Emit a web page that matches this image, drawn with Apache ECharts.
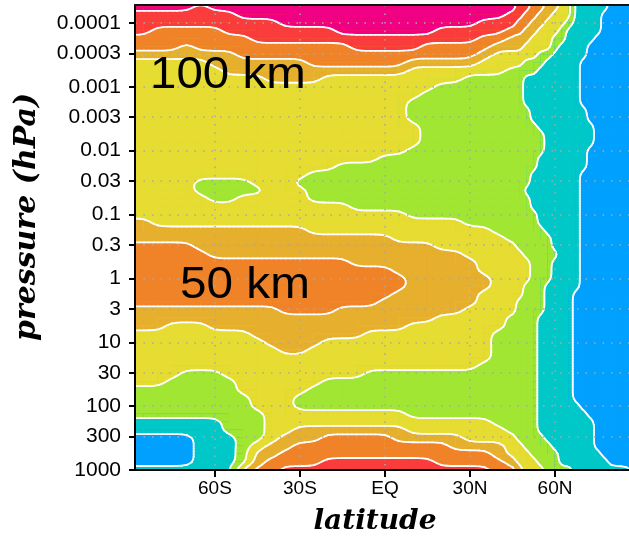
<!DOCTYPE html>
<html>
<head>
<meta charset="utf-8">
<script src="https://cdn.jsdelivr.net/npm/echarts@6/dist/echarts.min.js"></script>
<style>html,body{margin:0;padding:0;background:#fff}#chart{width:629px;height:537px}</style>
</head>
<body>
<div id="chart"></div>
<script>
// ---- data ----
const latitudes = [-90,-85,-80,-75,-70,-65,-60,-55,-50,-45,-40,-35,-30,-25,-20,-15,-10,-5,0,5,10,15,20,25,30,35,40,45,47.5,50,52.5,55,57.5,60,62.5,65,67.5,70,72.5,75,77.5,80,85,90];
// log10(pressure / hPa) of the grid rows, from top (low pressure) to bottom
const logPressureRows = [-4.5,-4.375,-4.25,-4.125,-4,-3.875,-3.75,-3.625,-3.5,-3.375,-3.25,-3.125,-3,-2.875,-2.75,-2.625,-2.5,-2.375,-2.25,-2.125,-2,-1.875,-1.75,-1.625,-1.5,-1.375,-1.25,-1.125,-1,-0.875,-0.75,-0.625,-0.5,-0.375,-0.25,-0.125,0,0.125,0.25,0.375,0.5,0.625,0.75,0.875,1,1.125,1.25,1.375,1.5,1.625,1.75,1.875,2,2.125,2.25,2.375,2.5,2.625,2.75,2.875,3];
// shading band at each grid node, one entry per latitude, read top row first,
// written as runs "band x number-of-rows"
const bandColumns = [
  "7x3 6x3 5x2 4x1 3x20 4x3 5x8 4x3 3x7 2x4 1x2 0x4 1x1",            // 90S
  "7x3 6x3 5x2 4x1 3x20 4x3 5x8 4x3 3x7 2x4 1x2 0x4 1x1",            // 85S
  "7x3 6x2 5x3 4x1 3x21 4x2 5x8 4x3 3x7 2x4 1x2 0x4 1x1",            // 80S
  "7x3 6x2 5x3 4x1 3x21 4x2 5x8 4x2 3x7 2x5 1x2 0x4 1x1",            // 75S
  "7x3 6x2 5x2 4x2 3x21 4x2 5x8 4x2 3x6 2x6 1x2 0x4 1x1",            // 70S
  "7x2 6x3 5x3 4x1 3x15 2x2 3x4 4x3 5x7 4x2 3x6 2x6 1x7",            // 65S
  "7x3 6x2 5x3 4x2 3x14 2x3 3x3 4x4 5x6 4x3 3x5 2x6 1x7",            // 60S
  "7x3 6x3 5x2 4x3 3x13 2x3 3x3 4x4 5x6 4x3 3x6 2x7 1x5",            // 55S
  "7x4 6x2 5x3 4x2 3x13 2x2 3x4 4x4 5x6 4x3 3x8 2x9 4x1",            // 50S
  "7x4 6x3 5x2 4x2 3x14 2x1 3x4 4x4 5x6 4x4 3x9 2x4 3x1 4x2 5x1",    // 45S
  "7x4 6x3 5x2 4x3 3x18 4x4 5x6 4x5 3x12 4x2 5x2",                   // 40S
  "7x5 6x2 5x2 4x3 3x18 4x4 5x7 4x5 3x10 4x2 5x2 6x1",               // 35S
  "7x5 6x2 5x2 4x3 3x12 2x1 3x5 4x4 5x7 4x5 3x5 2x2 3x2 4x2 5x3 6x1", // 30S
  "7x5 6x2 5x3 4x2 3x11 2x4 3x4 4x3 5x7 4x4 3x5 2x3 3x2 4x2 5x3 6x1", // 25S
  "7x5 6x2 5x3 4x1 3x12 2x4 3x4 4x3 5x7 4x3 3x5 2x4 3x2 4x1 5x3 6x2", // 20S
  "7x6 6x1 5x3 4x1 3x11 2x5 3x4 4x3 5x6 4x4 3x5 2x4 3x2 4x1 5x3 6x2", // 15S
  "7x6 6x2 5x2 4x1 3x11 2x6 3x3 4x4 5x5 4x4 3x5 2x4 3x2 4x1 5x3 6x2", // 10S
  "7x6 6x2 5x2 4x1 3x11 2x6 3x3 4x4 5x5 4x3 3x5 2x5 3x2 4x1 5x3 6x2", // 5S
  "7x6 6x2 5x2 4x1 3x10 2x7 3x3 4x4 5x4 4x4 3x5 2x5 3x2 4x1 5x3 6x2", // EQ
  "7x6 6x2 5x2 4x1 3x10 2x7 3x4 4x4 5x2 4x5 3x5 2x5 3x2 4x2 5x2 6x2", // 5N
  "7x6 6x2 5x1 4x1 3x4 2x3 3x3 2x9 3x3 4x10 3x6 2x6 3x2 4x1 5x2 6x2", // 10N
  "7x6 6x1 5x2 4x1 3x3 2x16 3x3 4x10 3x6 2x6 3x2 4x1 5x2 6x2",       // 15N
  "7x5 6x2 5x2 4x1 3x2 2x17 3x4 4x8 3x7 2x6 3x2 4x1 5x3 6x1",        // 20N
  "7x5 6x2 5x2 4x1 3x2 2x17 3x4 4x8 3x7 2x6 3x2 4x2 5x2 6x1",        // 25N
  "7x5 6x2 5x2 4x1 3x1 2x19 3x4 4x6 3x8 2x6 3x3 4x1 5x2 6x1",        // 30N
  "7x4 6x2 5x2 4x1 3x2 2x19 3x6 4x2 3x9 2x7 3x3 4x1 5x2 6x1",        // 35N
  "7x4 6x2 5x1 4x1 3x3 2x20 3x12 2x12 3x2 4x2 5x2",                  // 40N
  "7x3 6x2 5x1 4x2 3x2 2x22 3x9 2x15 3x3 4x1 5x1",                   // 45N
  "6x4 5x2 4x2 3x2 2x23 3x6 2x18 3x3 4x1",                           // 47.5N
  "6x3 5x2 4x2 3x2 2x2 1x4 2x10 1x1 2x8 3x3 2x21 3x3",               // 50N
  "5x4 4x2 3x3 2x2 1x6 2x6 1x5 2x31 3x2",                            // 52.5N
  "5x3 4x2 3x3 2x2 1x8 2x3 1x9 2x11 1x15 2x4 3x1",                   // 55N
  "4x4 3x4 2x1 1x22 2x6 1x20 2x4",                                   // 57.5N
  "4x3 3x3 2x2 1x25 2x1 1x24 2x3",                                   // 60N
  "3x5 2x2 1x53 2x1",                                                // 62.5N
  "3x4 2x1 1x55 2x1",                                                // 65N
  "1x38 0x14 1x9",                                                   // 67.5N
  "1x9 0x6 1x8 0x30 1x8",                                            // 70N
  "1x7 0x10 1x3 0x34 1x7",                                           // 72.5N
  "1x6 0x52 1x3",                                                    // 75N
  "1x3 0x56 1x2",                                                    // 77.5N
  "0x60 1x1",                                                        // 80N
  "0x60 1x1",                                                        // 85N
  "0x61"                                                             // 90N
];
const bandColors = ['#00a0ff','#00c8c8','#a0e632','#e6dc32','#e6af2d','#f08228','#fa3c3c','#f00082'];
const pressureTicks = [1000,300,100,30,10,3,1,0.3,0.1,0.03,0.01,0.003,0.001,0.0003,0.0001];
const pressureTickLabels = ['1000','300','100','30','10','3','1','0.3','0.1','0.03','0.01','0.003','0.001','0.0003','0.0001'];
const latTicks = [-60,-30,0,30,60];
const latTickLabels = ['60S','30S','EQ','30N','60N'];

// ---- decode + checks ----
const V = bandColumns.map((s, i) => {
  const out = [];
  s.trim().split(/\s+/).forEach(tok => {
    const [b, n] = tok.split('x').map(Number);
    for (let k = 0; k < n; k++) out.push(b);
  });
  if (out.length !== logPressureRows.length) throw new Error('column ' + i + ' has ' + out.length + ' rows');
  return out;
});
if (V.length !== latitudes.length) throw new Error('column count ' + V.length);

// ---- contouring: spline-smoothed field, as contouring programs smooth their contours ----
const NI = latitudes.length, NJ = logPressureRows.length;
const clampI = (a, lo, hi) => Math.max(lo, Math.min(hi, a));
const nodeVal = (i, j) => V[clampI(i, 0, NI - 1)][clampI(j, 0, NJ - 1)];
function w4(t) {
  const t2 = t * t, t3 = t2 * t;
  return [(1 - t) * (1 - t) * (1 - t) / 6, (3 * t3 - 6 * t2 + 4) / 6, (-3 * t3 + 3 * t2 + 3 * t + 1) / 6, t3 / 6];
}
function smoothAt(u, w) {
  const n = Math.floor(u), m = Math.floor(w);
  const a = w4(u - n), b = w4(w - m);
  let s = 0;
  for (let p = 0; p < 4; p++) for (let q = 0; q < 4; q++) s += a[p] * b[q] * nodeVal(n + p - 1, m + q - 1);
  return s;
}
const SUB = 3;
const FI = (NI - 1) * SUB + 1, FJ = (NJ - 1) * SUB + 1;
const interpAxis = (arr, u) => { const i = Math.min(Math.floor(u), arr.length - 2); return arr[i] + (u - i) * (arr[i + 1] - arr[i]); };
const FX = [], FY = [], F = [];
for (let fi = 0; fi < FI; fi++) FX.push(interpAxis(latitudes, fi / SUB));
for (let fj = 0; fj < FJ; fj++) FY.push(interpAxis(logPressureRows, fj / SUB));
for (let fi = 0; fi < FI; fi++) { F.push([]); for (let fj = 0; fj < FJ; fj++) F[fi].push(smoothAt(fi / SUB, fj / SUB)); }
const EPS = 1e-6;
const bandOf = v => Math.max(0, Math.min(bandColors.length - 1, Math.floor(v + 0.5 - EPS)));

const cellIdx = [], cellData = [];
for (let i = 0; i < NI - 1; i++) for (let j = 0; j < NJ - 1; j++) {
  cellIdx.push([i, j]);
  cellData.push([(latitudes[i] + latitudes[i + 1]) / 2, (logPressureRows[j] + logPressureRows[j + 1]) / 2]);
}

function clipAbove(pts, t) {
  const out = [];
  for (let a = 0; a < 4; a++) {
    const p = pts[a], q = pts[(a + 1) % 4];
    const pin = p[2] >= t, qin = q[2] >= t;
    if (pin) out.push([p[0], p[1], 0]);
    if (pin !== qin) {
      const f = (t - p[2]) / (q[2] - p[2]);
      out.push([p[0] + f * (q[0] - p[0]), p[1] + f * (q[1] - p[1]), pin ? 1 : 2]);
    }
  }
  return out;
}
function subcells(ci, cj, api) {
  const px = {}, list = [];
  const P = (fi, fj) => {
    const key = fi * 100000 + fj;
    if (!px[key]) px[key] = api.coord([FX[fi], FY[fj]]);
    const c = px[key];
    return [c[0], c[1], F[fi][fj]];
  };
  for (let a = 0; a < SUB; a++) for (let b = 0; b < SUB; b++) {
    const fi = ci * SUB + a, fj = cj * SUB + b;
    list.push([P(fi, fj), P(fi + 1, fj), P(fi + 1, fj + 1), P(fi, fj + 1)]);
  }
  return list;
}
function renderFill(params, api) {
  const [ci, cj] = cellIdx[params.dataIndex];
  const subs = subcells(ci, cj, api);
  let cmin = Infinity;
  subs.forEach(s => s.forEach(p => { cmin = Math.min(cmin, p[2]); }));
  const base = bandOf(cmin);
  const children = [];
  const full = [subs[0][0], subs[(SUB - 1) * SUB][1], subs[SUB * SUB - 1][2], subs[SUB - 1][3]];
  children.push({ type: 'polygon', silent: true, shape: { points: full.map(p => [p[0], p[1]]) },
    style: { fill: bandColors[base], stroke: bandColors[base], lineWidth: 1 } });
  subs.forEach(pts => {
    let lo = Infinity, hi = -Infinity;
    pts.forEach(p => { lo = Math.min(lo, p[2]); hi = Math.max(hi, p[2]); });
    const bl = bandOf(lo), bh = bandOf(hi);
    if (bl > base) children.push({ type: 'polygon', silent: true, shape: { points: pts.map(p => [p[0], p[1]]) },
      style: { fill: bandColors[bl], stroke: bandColors[bl], lineWidth: 1 } });
    for (let k = bl + 1; k <= bh; k++) {
      const poly = clipAbove(pts, k - 0.5 + EPS);
      if (poly.length < 3) continue;
      children.push({ type: 'polygon', silent: true, shape: { points: poly.map(p => [p[0], p[1]]) },
        style: { fill: bandColors[k], stroke: bandColors[k], lineWidth: 1 } });
    }
  });
  return { type: 'group', children };
}
function renderLines(params, api) {
  const [ci, cj] = cellIdx[params.dataIndex];
  const subs = subcells(ci, cj, api);
  const children = [];
  subs.forEach(pts => {
    let lo = Infinity, hi = -Infinity;
    pts.forEach(p => { lo = Math.min(lo, p[2]); hi = Math.max(hi, p[2]); });
    for (let k = bandOf(lo) + 1; k <= bandOf(hi); k++) {
      const poly = clipAbove(pts, k - 0.5 + EPS);
      const n = poly.length;
      for (let a = 0; a < n; a++) {
        if (poly[a][2] === 1) {
          const b = poly[(a + 1) % n];
          children.push({ type: 'line', silent: true,
            shape: { x1: poly[a][0], y1: poly[a][1], x2: b[0], y2: b[1] },
            style: { stroke: '#ffffff', lineWidth: 1.8, lineCap: 'round' } });
        }
      }
    }
  });
  return { type: 'group', children };
}

const logTicks = pressureTicks.map(p => Math.log10(p));
function nearestLabel(ticks, labels, v) {
  let best = 0;
  ticks.forEach((t, i) => { if (Math.abs(t - v) < Math.abs(ticks[best] - v)) best = i; });
  return labels[best];
}

const gridLine = { show: true, lineStyle: { color: '#a8a8a8', width: 1.5, type: [1.5, 7] } };
const chart = echarts.init(document.getElementById('chart'), null, { renderer: 'canvas' });
chart.setOption({
  animation: false,
  backgroundColor: '#ffffff',
  grid: { left: 135, top: 5, right: 0, bottom: 67, containLabel: false },
  xAxis: [{
    type: 'value', min: -88.2, max: 86.1, position: 'bottom', z: 10,
    axisLine: { show: true, onZero: false, lineStyle: { color: '#000', width: 2 } },
    axisTick: { show: true, customValues: latTicks, length: 7, lineStyle: { color: '#000', width: 2 } },
    axisLabel: { customValues: latTicks, formatter: v => nearestLabel(latTicks, latTickLabels, v), margin: 9, fontSize: 19, fontFamily: 'Liberation Sans', color: '#000' },
    splitLine: gridLine
  }, {
    type: 'value', min: -88.2, max: 86.1, position: 'top', z: 10,
    axisLine: { show: true, onZero: false, lineStyle: { color: '#111', width: 2 } },
    axisTick: { show: false }, axisLabel: { show: false }, splitLine: { show: false }
  }],
  yAxis: {
    type: 'value', inverse: true, min: -4.28, max: 3, z: 10,
    axisLine: { show: true, onZero: false, lineStyle: { color: '#000', width: 2 } },
    axisTick: { show: true, customValues: logTicks, length: 6, lineStyle: { color: '#000', width: 2 } },
    axisLabel: { customValues: logTicks, formatter: v => nearestLabel(logTicks, pressureTickLabels, v), margin: 14, fontSize: 21, fontFamily: 'Liberation Sans', color: '#000' },
    splitLine: gridLine
  },
  series: [{
    type: 'custom', name: 'bands', renderItem: renderFill, data: cellData,
    encode: { x: 0, y: 1 }, clip: true, z: 1, silent: true
  }, {
    type: 'custom', name: 'contours', renderItem: renderLines, data: cellData,
    encode: { x: 0, y: 1 }, clip: true, z: 3, silent: true
  }],
  graphic: [
    { type: 'text', x: 150, y: 76, scaleX: 1.055, z: 20, style: { text: '100 km', fontSize: 45, fontFamily: 'Liberation Sans', fill: '#000', verticalAlign: 'middle' } },
    { type: 'text', x: 180, y: 286, scaleX: 1.06, z: 20, style: { text: '50 km', fontSize: 45, fontFamily: 'Liberation Sans', fill: '#000', verticalAlign: 'middle' } },
    { type: 'text', x: 375, y: 522, z: 20, style: { text: 'latitude', fontSize: 28, fontWeight: 'bold', fontStyle: 'italic', fontFamily: 'DejaVu Serif', fill: '#000', align: 'center', verticalAlign: 'middle' } },
    { type: 'text', x: 27, y: 217, rotation: Math.PI / 2, z: 20, style: { text: 'pressure (hPa)', fontSize: 30, fontWeight: 'bold', fontStyle: 'italic', fontFamily: 'DejaVu Serif', fill: '#000', align: 'center', verticalAlign: 'middle' } }
  ]
});
</script>
</body>
</html>
